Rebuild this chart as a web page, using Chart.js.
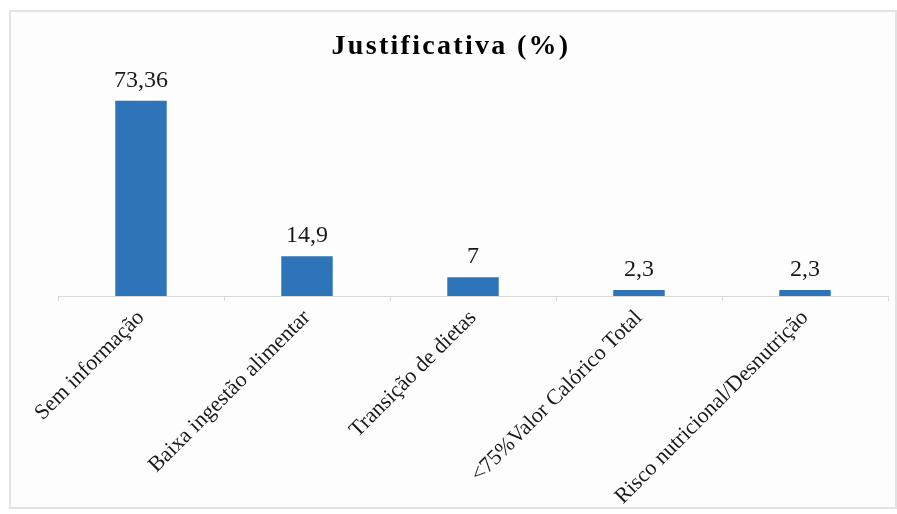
<!DOCTYPE html>
<html>
<head>
<meta charset="utf-8">
<script src="https://cdn.jsdelivr.net/npm/chart.js@4"></script>
<style>
    body { margin: 0; background: #ffffff; }
    .frame {
        position: absolute; left: 9px; top: 10px; width: 884px; height: 495px;
        border: 2px solid #e3e3e3; background: #fdfdfd;
    }
    .holder { position: absolute; left: 0; top: 0; width: 897px; height: 514px; }
</style>
</head>
<body>
<div class="frame"></div>
<div class="holder"><canvas id="chart"></canvas></div>
<script>
const categories = [
    'Sem informação',
    'Baixa ingestão alimentar',
    'Transição de dietas',
    '<75%Valor Calórico Total',
    'Risco nutricional/Desnutrição'
];
const values = [73.36, 14.9, 7, 2.3, 2.3];
const titleText = 'Justificativa (%)';

// Value labels and title drawn on the canvas
const labelPlugin = {
    id: 'valueLabels',
    afterDatasetsDraw(chart) {
        const ctx = chart.ctx;
        const meta = chart.getDatasetMeta(0);
        ctx.save();
        ctx.fillStyle = '#1a1a1a';
        ctx.font = '24px "Liberation Serif", serif';
        ctx.textAlign = 'center';
        ctx.textBaseline = 'alphabetic';
        meta.data.forEach((bar, i) => {
            const txt = String(values[i]).replace('.', ',');
            ctx.fillText(txt, bar.x, bar.y - 14);
        });
        ctx.font = 'bold 28px "Liberation Serif", serif';
        ctx.letterSpacing = '2.3px';
        ctx.fillStyle = '#000000';
        ctx.fillText(titleText, 451, 54);
        ctx.restore();
    }
};

new Chart(document.getElementById('chart'), {
    type: 'bar',
    data: {
        labels: categories,
        datasets: [{
            data: values,
            backgroundColor: '#2e74b8',
            categoryPercentage: 1,
            barPercentage: 0.31
        }]
    },
    options: {
        responsive: true,
        maintainAspectRatio: false,
        animation: false,
        layout: { padding: { left: 58, right: 9, top: 83, bottom: 0 } },
        plugins: {
            legend: { display: false },
            tooltip: { enabled: false }
        },
        scales: {
            x: {
                afterFit(scale) { scale.height = 218; },
                border: { color: '#d9d9d9' },
                grid: {
                    offset: true,
                    drawOnChartArea: false,
                    drawTicks: true,
                    tickLength: 5,
                    color: '#d9d9d9'
                },
                ticks: {
                    minRotation: 45,
                    maxRotation: 45,
                    color: '#1a1a1a',
                    padding: 4,
                    font: { family: '"Liberation Serif", serif', size: 22 }
                }
            },
            y: {
                display: false,
                min: 0,
                max: 80
            }
        }
    },
    plugins: [labelPlugin]
});
</script>
</body>
</html>
